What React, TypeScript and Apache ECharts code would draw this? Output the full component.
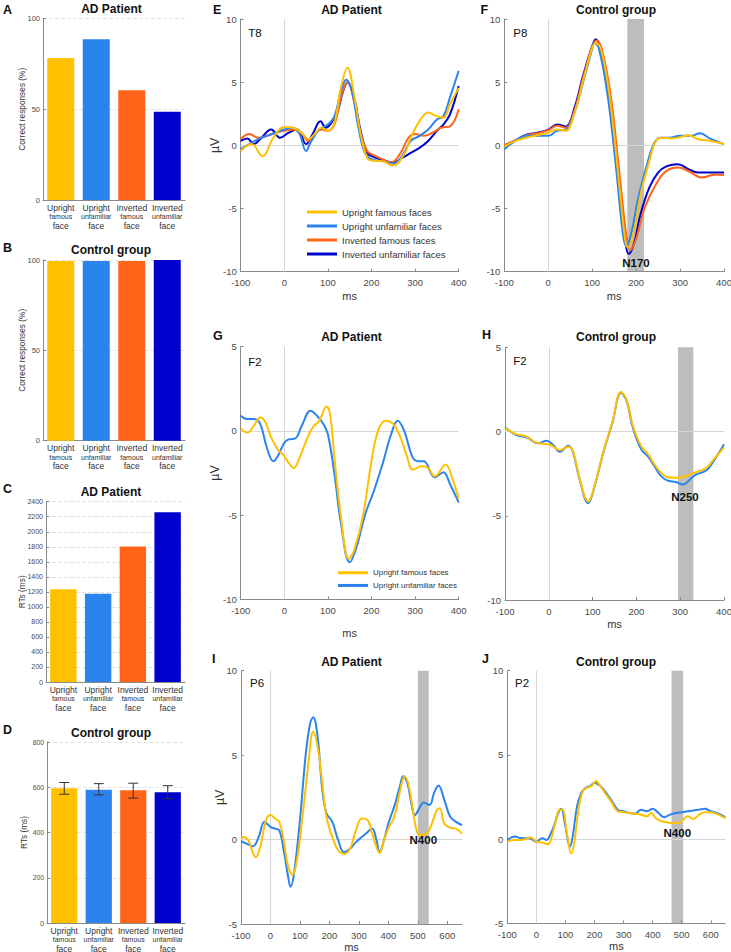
import React, { useEffect, useRef } from 'react';
import * as echarts from 'echarts';

const FONT = '"Liberation Sans", Arial, Helvetica, sans-serif';

const CONDITIONS = ['Upright famous faces', 'Upright unfamiliar faces', 'Inverted famous faces', 'Inverted unfamiliar faces'];
const COLORS = ['#FFC000', '#2B83EE', '#FF6418', '#0000CC'];

const BAR_CATEGORIES = ['Upright famous face', 'Upright unfamiliar face', 'Inverted famous face', 'Inverted unfamiliar face'];
const ACC_AD = [78.3, 88.6, 60.4, 48.6];
const ACC_CONTROL = [99.4, 99.4, 99.4, 100];
const RT_AD = [1235, 1175, 1805, 2258];
const RT_CONTROL = [596, 589, 587, 578];
const RT_CONTROL_LOW = [569, 566, 552, 549];
const RT_CONTROL_HIGH = [621, 616, 618, 607];

const PANEL_LETTERS = ['A', 'B', 'C', 'D', 'E', 'F', 'G', 'H', 'I', 'J'];
const PANEL_TITLES = ['AD Patient', 'Control group', 'AD Patient', 'Control group', 'AD Patient', 'Control group', 'AD Patient', 'Control group', 'AD Patient', 'Control group'];
const ELECTRODES = ['T8', 'P8', 'F2', 'F2', 'P6', 'P2'];
const COMPONENT_LABELS = ['N170', 'N250', 'N400', 'N400'];
const WINDOW_F = [180, 218];
const WINDOW_H = [295, 330];
const WINDOW_I = [500, 537];
const WINDOW_J = [465, 505];

// E: T8, AD patient
const E_UF = [[-100,-0.45],[-75,0.1],[-50,-0.85],[-25,0.6],[0,1.45],[20,1.4],[40,1.0],[55,0.5],[70,0.9],[85,1.4],[100,1.15],[115,1.8],[130,4.6],[145,6.15],[160,4.0],[175,0.9],[190,-1.0],[200,-1.2],[225,-1.25],[250,-1.6],[275,-0.7],[290,0.6],[310,1.9],[330,2.6],[350,2.3],[365,2.2],[380,3.25],[400,4.55]];
const E_UU = [[-100,-0.3],[-80,0.1],[-60,0.5],[-40,0.75],[-20,1.0],[0,1.25],[20,1.4],[35,0.9],[50,-0.45],[60,0.2],[80,1.25],[100,1.65],[115,2.3],[130,4.3],[142,5.2],[155,4.3],[170,1.4],[185,-0.6],[200,-1.1],[225,-1.25],[250,-1.45],[270,-0.85],[290,0.35],[310,0.75],[330,1.25],[350,2.05],[365,2.3],[380,3.8],[400,5.9]];
const E_IF = [[-100,0.5],[-80,0.9],[-60,0.6],[-40,0.75],[-20,1.0],[0,1.15],[20,1.25],[40,0.9],[55,0.35],[70,0.9],[85,1.25],[100,1.15],[115,1.65],[130,3.8],[145,5.0],[160,3.5],[175,0.9],[190,-0.45],[200,-0.7],[225,-1.1],[245,-1.35],[265,-0.7],[285,0.6],[300,0.9],[320,0.75],[340,1.0],[360,1.4],[380,1.5],[400,2.85]];
const E_IU = [[-100,0.35],[-85,0.55],[-70,0.1],[-55,0.5],[-30,1.25],[-10,0.6],[10,1.0],[30,1.25],[50,0.1],[65,0.9],[83,1.9],[95,1.4],[105,1.65],[120,2.45],[135,4.3],[145,5.0],[160,3.8],[175,1.15],[190,-0.6],[200,-0.85],[220,-1.1],[250,-1.35],[270,-1.0],[290,-0.6],[310,-0.2],[330,0.35],[350,1.15],[365,1.65],[380,2.45],[400,4.7]];

// F: P8, control group
const F_UF = [[-100,-0.1],[-75,0.35],[-50,0.6],[-25,0.8],[0,1.0],[20,1.25],[40,1.15],[60,2.6],[80,5.2],[100,7.7],[108,8.1],[120,7.6],[140,3.8],[160,-2.55],[175,-7.45],[182,-8.1],[195,-6.8],[210,-3.9],[230,-1.25],[245,0.35],[260,0.6],[280,0.55],[300,0.65],[320,0.8],[340,0.5],[370,0.35],[400,0.1]];
const F_UU = [[-100,-0.3],[-75,0.35],[-50,0.75],[-25,0.75],[0,0.75],[20,1.15],[40,1.25],[60,2.6],[80,5.1],[100,7.6],[105,8.1],[115,7.7],[135,4.0],[155,-2.0],[170,-7.05],[178,-8.0],[190,-6.8],[205,-4.15],[225,-1.5],[240,0.1],[255,0.6],[275,0.6],[300,0.75],[325,0.75],[345,0.95],[370,0.5],[400,0.1]];
const F_IF = [[-100,0],[-75,0.4],[-50,0.8],[-25,0.95],[0,1.2],[20,1.55],[40,1.4],[60,2.8],[80,5.4],[100,7.8],[110,8.3],[122,7.6],[142,4.0],[162,-2.2],[178,-7.2],[187,-8.3],[200,-7.4],[220,-4.9],[250,-2.8],[270,-2.0],[295,-1.75],[320,-2.05],[350,-2.55],[380,-2.3],[400,-2.35]];
const F_IU = [[-100,0],[-75,0.4],[-50,0.85],[-25,1.0],[0,1.25],[20,1.65],[40,1.5],[60,3.0],[80,5.6],[100,7.85],[108,8.4],[120,7.5],[140,3.8],[160,-2.3],[175,-7.45],[183,-8.6],[195,-7.8],[210,-5.45],[230,-3.35],[250,-2.15],[270,-1.65],[295,-1.5],[320,-1.9],[340,-2.15],[370,-2.15],[400,-2.15]];

// G: F2, AD patient
const G_UF = [[-100,0.15],[-85,-0.1],[-70,0.3],[-55,0.8],[-45,0.6],[-30,-0.4],[-15,-1.1],[0,-1.5],[10,-1.9],[22,-2.2],[35,-1.6],[50,-0.6],[65,0.2],[80,0.6],[97,1.45],[105,1.0],[115,-1.6],[130,-5.1],[148,-7.6],[160,-7.1],[180,-5.1],[200,-1.8],[215,0.0],[232,0.6],[250,0.4],[265,-0.3],[280,-1.4],[295,-2.3],[315,-2.1],[330,-2.2],[345,-2.7],[370,-2.0],[385,-2.8],[400,-4.05]];
const G_UU = [[-100,0.9],[-85,0.7],[-70,0.7],[-55,0.4],[-40,-1.0],[-25,-1.8],[-15,-1.5],[0,-0.7],[10,-0.5],[25,-0.45],[40,0.3],[60,1.2],[75,0.9],[90,0.4],[100,-0.2],[115,-2.55],[130,-5.5],[150,-7.8],[165,-6.95],[185,-5.0],[205,-3.6],[225,-2.0],[245,-0.2],[260,0.6],[275,0.0],[295,-1.6],[310,-1.8],[320,-1.8],[345,-2.75],[365,-2.45],[380,-3.15],[400,-4.25]];

// H: F2, control group
const H_UF = [[-100,0.2],[-75,-0.15],[-50,-0.3],[-25,-0.7],[0,-0.75],[25,-1.1],[45,-0.9],[55,-1.15],[70,-2.75],[90,-4.15],[105,-3.15],[125,-1.15],[145,0.55],[165,2.35],[178,1.85],[190,0.55],[200,-0.25],[212,-0.9],[227,-1.35],[240,-1.9],[255,-2.4],[270,-2.7],[290,-2.75],[307,-2.7],[322,-2.55],[337,-2.4],[360,-2.15],[375,-1.7],[390,-1.25],[400,-0.95]];
const H_UU = [[-100,0.25],[-75,-0.2],[-50,-0.35],[-25,-0.7],[-5,-0.55],[10,-0.8],[25,-1.2],[45,-0.85],[55,-1.2],[70,-2.8],[90,-4.25],[105,-3.2],[125,-1.2],[145,0.5],[165,2.3],[178,1.8],[190,0.4],[200,-0.4],[212,-1.1],[227,-1.5],[240,-2.0],[255,-2.6],[270,-2.9],[290,-3.0],[307,-3.15],[322,-2.85],[337,-2.55],[360,-2.3],[375,-1.8],[390,-1.2],[400,-0.75]];

// I: P6, AD patient
const I_UF = [[-100,0.05],[-90,0.15],[-75,-0.05],[-50,-1.05],[-35,-0.45],[-15,1.15],[0,1.45],[15,1.25],[30,1.05],[45,-0.05],[60,-1.6],[75,-2.1],[90,-1.2],[110,1.55],[130,4.7],[145,6.4],[160,5.5],[175,3.5],[190,1.35],[210,0.15],[230,-0.65],[250,-0.85],[270,-0.55],[290,0.55],[310,1.25],[330,1.15],[345,0.35],[360,-0.45],[370,-0.8],[385,-0.05],[400,0.65],[420,1.35],[440,2.9],[455,3.75],[470,3.15],[485,1.55],[500,0.35],[515,0.25],[535,0.45],[550,1.05],[565,1.75],[575,1.85],[590,0.95],[610,0.7],[630,0.65],[650,0.35]];
const I_UU = [[-100,-0.1],[-80,-0.25],[-60,-0.4],[-40,0.15],[-20,1.05],[0,0.75],[15,0.65],[30,0.55],[45,-0.65],[60,-2.2],[68,-2.8],[80,-2.0],[100,1.15],[120,5.1],[135,6.9],[145,7.25],[160,6.1],[175,3.1],[190,1.55],[210,1.05],[230,-0.05],[250,-0.75],[270,-0.55],[290,-0.15],[310,0.15],[330,0.45],[345,0.65],[360,-0.05],[370,-0.75],[385,-0.05],[400,0.95],[420,1.95],[440,3.2],[450,3.75],[465,3.3],[480,1.95],[490,1.45],[505,1.85],[520,2.2],[540,2.05],[555,2.75],[570,3.2],[590,2.35],[610,1.35],[630,1.05],[650,0.85]];

// J: P2, control group
const J_UF = [[-100,-0.15],[-75,-0.05],[-50,-0.05],[-20,0.1],[0,-0.15],[20,-0.2],[40,-0.3],[50,-0.05],[65,0.95],[80,1.75],[90,1.75],[105,0.35],[120,-0.85],[130,-0.25],[145,1.75],[160,2.85],[175,3.05],[190,3.15],[205,3.45],[220,3.15],[240,2.65],[260,2.15],[280,1.65],[300,1.6],[320,1.55],[340,1.5],[360,1.45],[380,1.35],[395,1.55],[410,1.25],[430,1.05],[450,1.0],[470,0.95],[490,0.95],[505,1.15],[520,1.35],[540,1.2],[560,1.45],[580,1.6],[600,1.6],[620,1.5],[650,1.25]];
const J_UU = [[-100,-0.05],[-75,0.15],[-50,0.05],[-25,0.05],[0,-0.15],[20,0.05],[35,-0.05],[45,0.15],[60,0.75],[75,1.55],[85,1.8],[100,0.75],[115,-0.45],[125,0.15],[140,1.95],[155,2.75],[170,3.05],[185,3.15],[200,3.35],[220,3.15],[240,2.75],[260,2.25],[280,1.75],[300,1.65],[320,1.55],[340,1.5],[360,1.75],[380,1.65],[400,1.8],[420,1.55],[440,1.3],[460,1.45],[480,1.55],[500,1.6],[520,1.65],[540,1.7],[560,1.75],[580,1.8],[600,1.65],[620,1.55],[650,1.3]];

const AXIS_COLOR = '#8a8a8a';
const LABEL_COLOR = '#4a4a4a';

export default function App() {
  const ref = useRef<HTMLDivElement>(null);

  useEffect(() => {
    if (!ref.current) return;
    const chart = echarts.init(ref.current, undefined, { renderer: 'svg' });

    const barGrids = [
      { left: 43, top: 18.5, width: 142, height: 181.5 },
      { left: 43, top: 260, width: 142, height: 180.7 },
      { left: 46, top: 501.7, width: 139, height: 180.3 },
      { left: 47, top: 742, width: 138, height: 181 },
    ];
    const barSpecs = [
      { values: ACC_AD, max: 100, interval: 50, name: 'Correct responses (%)', gap: 17, fs: 7.5 },
      { values: ACC_CONTROL, max: 100, interval: 50, name: 'Correct responses (%)', gap: 17, fs: 7.5 },
      { values: RT_AD, max: 2400, interval: 200, name: 'RTs (ms)', gap: 20, fs: 7 },
      { values: RT_CONTROL, max: 800, interval: 200, name: 'RTs (ms)', gap: 19.5, fs: 6.8 },
    ];

    const erpSpecs = [
      { grid: { left: 240.7, top: 19, width: 218, height: 252.7 }, yMin: -10, yMax: 10, xMax: 400, yName: 'µV', yGap: 19.7, xGap: 19, win: null as number[] | null,
        lines: [[E_IU, 3], [E_IF, 2], [E_UU, 1], [E_UF, 0]] },
      { grid: { left: 504.3, top: 19, width: 219.7, height: 252.7 }, yMin: -10, yMax: 10, xMax: 400, yName: '', yGap: 20, xGap: 19, win: WINDOW_F,
        lines: [[F_IU, 3], [F_IF, 2], [F_UU, 1], [F_UF, 0]] },
      { grid: { left: 240.7, top: 346.7, width: 218, height: 252.6 }, yMin: -10, yMax: 5, xMax: 400, yName: 'µV', yGap: 19.7, xGap: 28, win: null,
        lines: [[G_UU, 1], [G_UF, 0]] },
      { grid: { left: 505, top: 347.3, width: 219, height: 252.7 }, yMin: -10, yMax: 5, xMax: 400, yName: '', yGap: 20, xGap: 18.5, win: WINDOW_H,
        lines: [[H_UU, 1], [H_UF, 0]] },
      { grid: { left: 241, top: 670.7, width: 221, height: 253.3 }, yMin: -5, yMax: 10, xMax: 650, yName: 'µV', yGap: 14.7, xGap: 17, win: WINDOW_I,
        lines: [[I_UU, 1], [I_UF, 0]] },
      { grid: { left: 507.3, top: 670.7, width: 218, height: 252.6 }, yMin: -5, yMax: 10, xMax: 650, yName: '', yGap: 20, xGap: 17, win: WINDOW_J,
        lines: [[J_UU, 1], [J_UF, 0]] },
    ];

    const grids: any[] = [];
    const xAxes: any[] = [];
    const yAxes: any[] = [];
    const series: any[] = [];

    barSpecs.forEach((b, i) => {
      grids.push({ ...barGrids[i], outerBoundsMode: 'none', containLabel: false });
      xAxes.push({
        type: 'category', gridIndex: i, data: BAR_CATEGORIES,
        axisLine: { show: true, onZero: false, lineStyle: { color: AXIS_COLOR, width: 1 } },
        axisTick: { show: false },
        axisLabel: {
          interval: 0, margin: 3, color: '#333',
          formatter: (v: string) => { const w = v.split(' '); return `{a|${w[0]}}\n{b|${w[1]}}\n{a|${w[2]}}`; },
          rich: {
            a: { fontSize: 8.5, lineHeight: 9, color: '#333', fontFamily: FONT },
            b: { fontSize: 7, lineHeight: 9, color: '#333', fontFamily: FONT },
          },
        },
      });
      yAxes.push({
        type: 'value', gridIndex: i, min: 0, max: b.max, interval: b.interval,
        name: b.name, nameLocation: 'middle', nameGap: b.gap, nameMoveOverlap: false,
        nameTextStyle: { fontSize: 8.3, color: '#333', fontFamily: FONT },
        axisLine: { show: true, onZero: false, lineStyle: { color: AXIS_COLOR, width: 1 } },
        axisTick: { show: true, inside: true, length: 3, lineStyle: { color: AXIS_COLOR } },
        axisLabel: { fontSize: b.fs, color: LABEL_COLOR, margin: 3, formatter: (v: number) => String(v) },
        splitLine: { show: true, lineStyle: { type: 'dashed', color: '#e2e2e2', width: 1 } },
      });
      series.push({
        type: 'bar', xAxisIndex: i, yAxisIndex: i, barWidth: '76%',
        data: b.values.map((v, k) => ({ value: v, itemStyle: { color: COLORS[k] } })),
        silent: true,
      });
    });

    series.push({
      type: 'custom', xAxisIndex: 3, yAxisIndex: 3, z: 10, silent: true,
      encode: { x: 0, y: [1, 2] },
      data: RT_CONTROL_LOW.map((lo, k) => [k, lo, RT_CONTROL_HIGH[k]]),
      renderItem: (_p: any, api: any) => {
        const x = api.value(0);
        const lo = api.coord([x, api.value(1)]);
        const hi = api.coord([x, api.value(2)]);
        const w = 5;
        const style = { stroke: '#333', lineWidth: 1 };
        return {
          type: 'group',
          children: [
            { type: 'line', shape: { x1: lo[0], y1: lo[1], x2: hi[0], y2: hi[1] }, style },
            { type: 'line', shape: { x1: hi[0] - w, y1: hi[1], x2: hi[0] + w, y2: hi[1] }, style },
            { type: 'line', shape: { x1: lo[0] - w, y1: lo[1], x2: lo[0] + w, y2: lo[1] }, style },
          ],
        };
      },
    });

    erpSpecs.forEach((p, j) => {
      const gi = 4 + j;
      grids.push({ ...p.grid, outerBoundsMode: 'none', containLabel: false });
      xAxes.push({
        type: 'value', gridIndex: gi, min: -100, max: p.xMax, interval: 100,
        name: 'ms', nameLocation: 'middle', nameGap: p.xGap, nameMoveOverlap: false,
        nameTextStyle: { fontSize: 11, color: '#333', fontFamily: FONT },
        axisLine: { show: true, onZero: false, lineStyle: { color: AXIS_COLOR, width: 1 } },
        axisTick: { show: true, inside: true, length: 3, lineStyle: { color: AXIS_COLOR } },
        axisLabel: { fontSize: 9.5, color: LABEL_COLOR, margin: 6, showMaxLabel: p.xMax === 400 },
        splitLine: { show: false },
      });
      yAxes.push({
        type: 'value', gridIndex: gi, min: p.yMin, max: p.yMax, interval: 5,
        name: p.yName, nameLocation: 'middle', nameGap: p.yGap, nameMoveOverlap: false,
        nameTextStyle: { fontSize: 12.5, color: '#333', fontFamily: FONT },
        axisLine: { show: true, onZero: false, lineStyle: { color: AXIS_COLOR, width: 1 } },
        axisTick: { show: true, inside: true, length: 3, lineStyle: { color: AXIS_COLOR } },
        axisLabel: { fontSize: 9.5, color: LABEL_COLOR, margin: 4 },
        splitLine: { show: false },
      });
      p.lines.forEach(([data, ci]: any, k: number) => {
        const s: any = {
          type: 'line', name: CONDITIONS[ci], xAxisIndex: gi, yAxisIndex: gi,
          data, showSymbol: false, symbol: 'none', smooth: 0.4, silent: true,
          lineStyle: { color: COLORS[ci], width: 2 }, itemStyle: { color: COLORS[ci] },
          z: 3 + k,
        };
        if (k === 0) {
          s.markLine = {
            silent: true, symbol: ['none', 'none'], z: 1, label: { show: false },
            lineStyle: { color: '#d6d6d6', width: 1, type: 'solid' },
            emphasis: { disabled: true },
            data: [{ xAxis: 0 }, { yAxis: 0 }],
          };
          if (p.win) {
            s.markArea = {
              silent: true, z: 0, itemStyle: { color: '#bdbdbd', opacity: 1 },
              emphasis: { disabled: true },
              data: [[{ xAxis: p.win[0] }, { xAxis: p.win[1] }]],
            };
          }
        }
        series.push(s);
      });
    });

    const txt = (x: number, y: number, t: string, size: number, bold: boolean, align = 'center') => ({
      type: 'text', x, y, silent: true, z: 100,
      style: {
        text: t, fill: '#111', fontSize: size, fontWeight: bold ? 'bold' : 'normal', fontFamily: FONT,
        align, verticalAlign: 'middle', textAlign: align, textVerticalAlign: 'middle',
      },
    });

    const letterPos = [[3, 10], [3, 248], [3, 488.5], [3, 730], [213, 10], [480.5, 10], [213, 336], [482, 335], [212, 659], [482, 659]];
    const titlePos = [[111.5, 8.5], [111, 250], [111, 491.7], [111, 732.7], [351.5, 9.5], [616, 10], [351.5, 337.3], [616, 337.3], [351.5, 661.7], [616, 661.7]];
    const electrodePos = [[248.3, 33.3], [513.3, 32.7], [248.3, 361.7], [513.3, 360.7], [250, 683.3], [515, 683.3]];
    const compPos = [[636, 263.3], [685, 496.7], [423.3, 840], [677.3, 833.3]];

    const graphics: any[] = [];
    PANEL_LETTERS.forEach((l, i) => graphics.push(txt(letterPos[i][0], letterPos[i][1], l, 12.5, true, 'left')));
    PANEL_TITLES.forEach((t, i) => graphics.push(txt(titlePos[i][0], titlePos[i][1], t, 12, true)));
    ELECTRODES.forEach((t, i) => graphics.push(txt(electrodePos[i][0], electrodePos[i][1], t, 11.5, false, 'left')));
    COMPONENT_LABELS.forEach((t, i) => graphics.push(txt(compPos[i][0], compPos[i][1], t, 11.5, true)));

    chart.setOption({
      animation: false,
      backgroundColor: '#ffffff',
      textStyle: { fontFamily: FONT },
      grid: grids,
      xAxis: xAxes,
      yAxis: yAxes,
      legend: [
        {
          data: CONDITIONS, left: 307, top: 206, orient: 'vertical', selectedMode: false,
          icon: 'rect', itemWidth: 30, itemHeight: 3, itemGap: 2, padding: 0,
          textStyle: { fontSize: 9.5, color: '#333', lineHeight: 12, fontFamily: FONT },
        },
        {
          data: CONDITIONS.slice(0, 2), left: 338, top: 567.5, orient: 'vertical', selectedMode: false,
          icon: 'rect', itemWidth: 30, itemHeight: 3, itemGap: 2.2, padding: 0,
          textStyle: { fontSize: 8, color: '#333', lineHeight: 10.5, fontFamily: FONT },
        },
      ],
      series,
      graphic: graphics,
    });

    return () => chart.dispose();
  }, []);

  return (
    <div
      ref={ref}
      style={{ position: 'fixed', left: 0, top: 0, width: 731, height: 952, background: '#fff' }}
    />
  );
}
